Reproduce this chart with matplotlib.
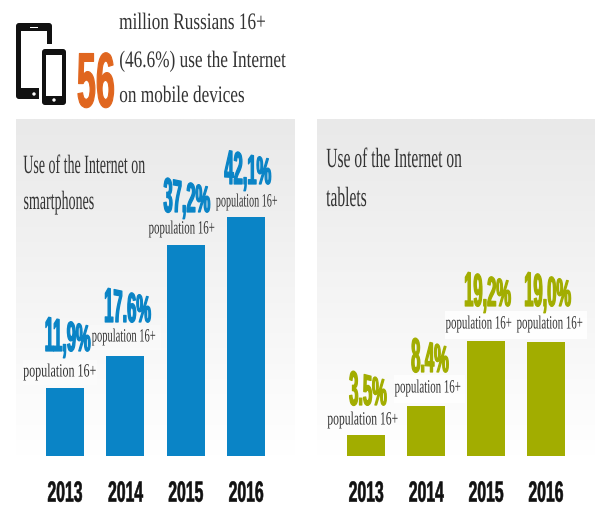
import numpy as np
import matplotlib
matplotlib.use("Agg")
import matplotlib.pyplot as plt
from matplotlib.colors import LinearSegmentedColormap
from matplotlib.patches import FancyBboxPatch, Circle, Rectangle
from matplotlib.patheffects import AbstractPathEffect
from matplotlib.path import Path
from matplotlib.transforms import Affine2D

# --------------------------
# Data
# --------------------------
years = ["2013", "2014", "2015", "2016"]
smartphones = [11.9, 17.6, 37.2, 42.1]
tablets = [3.5, 8.4, 19.2, 19.0]
smartphone_labels = ["11,9%", "17.6%", "37,2%", "42,1%"]
tablet_labels = ["3.5%", "8.4%", "19,2%", "19,0%"]
pop_label = "population 16+"

W, H = 595, 506
BLUE = "#0a84c6"
OLIVE = "#a2ad00"
ORANGE = "#e0661f"
GREY_TEXT = "#333333"
SERIF = "Liberation Serif"
SANS = "Liberation Sans"


class Squeeze(AbstractPathEffect):
    # narrows the glyphs, the installed fonts have no such condensed cut
    def __init__(self, sx, left=False, taper=0.0, stroke=0.0):
        super().__init__()
        self.sx = sx
        self.left = left
        self.taper = taper
        self.stroke = stroke

    def draw_path(self, renderer, gc, tpath, affine, rgbFace=None):
        ext = tpath.get_extents()
        cx = ext.x0 if self.left else (ext.x0 + ext.x1) / 2
        if self.taper:
            # last characters lower than the first ones, on the same baseline
            v = tpath.vertices.copy()
            v[:, 1] *= 1 - self.taper * (v[:, 0] - ext.x0) / ext.width
            tpath = Path(v, tpath.codes)
        squeeze = Affine2D().translate(-cx, 0).scale(self.sx, 1).translate(cx, 0)
        gc0 = renderer.new_gc()
        gc0.copy_properties(gc)
        if self.stroke:
            gc0.set_linewidth(self.stroke)
            gc0.set_foreground(rgbFace)
        renderer.draw_path(gc0, tpath, squeeze + affine, rgbFace)
        gc0.restore()


fig = plt.figure(figsize=(W / 100, H / 100), dpi=100, facecolor="white")


def px_axes(x0, y0, x1, y1):
    return fig.add_axes([x0 / W, 1 - y1 / H, (x1 - x0) / W, (y1 - y0) / H])


def bar_panel(box, values, color, xlim, ymax):
    ax = px_axes(*box)
    grad = np.linspace(0, 1, 256).reshape(-1, 1)
    ax.imshow(grad, cmap=LinearSegmentedColormap.from_list(
        "panel", ["#e9e9e9", "#f4f4f4", "#ffffff"]),
        extent=(0, 1, 0, 1), transform=ax.transAxes, aspect="auto", zorder=0)
    ax.bar(range(len(values)), values, width=0.63, color=color, zorder=2)
    ax.set_xlim(*xlim)
    ax.set_ylim(0, ymax)
    ax.set_yticks([])
    ax.set_xticks(range(len(years)))
    ax.set_xticklabels(years, fontsize=21, fontweight="bold", family=SANS, color="#111111")
    ax.tick_params(axis="x", length=0, pad=17)
    for lab in ax.get_xticklabels():
        lab.set_path_effects([Squeeze(0.54, stroke=0.4)])
    for s in ax.spines.values():
        s.set_visible(False)
    return ax


ax_l = bar_panel((16, 120, 295, 457), smartphones, BLUE, (-0.81, 3.81), 59.4)
ax_r = bar_panel((317, 120, 595, 457), tablets, OLIVE, (-0.82, 3.82), 56.3)

# overlay in picture pixels for the texts and the icon
ov = fig.add_axes([0, 0, 1, 1], facecolor="none")
ov.set_xlim(0, W)
ov.set_ylim(H, 0)
ov.axis("off")


def serif(x, y, s, size, sx, left=False):
    t = ov.text(x, y, s, family=SERIF, fontsize=size, color=GREY_TEXT,
                ha="left" if left else "center", va="baseline" if left else "center",
                zorder=5)
    t.set_path_effects([Squeeze(sx, left=left)])
    return t


def value(x, y, s, color):
    t = ov.text(x, y, s, family=SANS, fontweight="bold", fontsize=36, color=color,
                ha="center", va="baseline", zorder=5)
    t.set_path_effects([Squeeze(0.33, taper=0.28, stroke=0.9)])


def white_box(x, y, w, h, alpha):
    if alpha > 0:
        ov.add_patch(Rectangle((x, y), w, h, facecolor="white", alpha=alpha,
                               edgecolor="none", zorder=4))


# --------------------------
# Header
# --------------------------
ov.add_patch(FancyBboxPatch((16, 24), 36, 76, boxstyle="round,pad=0,rounding_size=3",
                            facecolor="#111111", edgecolor="none", zorder=2))
ov.add_patch(Rectangle((21, 32), 26, 57, facecolor="white", edgecolor="none", zorder=3))
ov.add_patch(Circle((34, 95), 1.7, facecolor="white", edgecolor="none", zorder=3))
ov.add_patch(Rectangle((30, 27.5), 8, 1.5, facecolor="white", edgecolor="none", zorder=3))
ov.add_patch(Rectangle((39, 45), 30, 65, facecolor="white", edgecolor="none", zorder=3))
ov.add_patch(FancyBboxPatch((42, 50), 24, 56, boxstyle="round,pad=0,rounding_size=3",
                            facecolor="#111111", edgecolor="none", zorder=4))
ov.add_patch(Rectangle((46, 56), 16, 41, facecolor="white", edgecolor="none", zorder=5))
ov.add_patch(Circle((54, 101), 1.7, facecolor="white", edgecolor="none", zorder=5))

t56 = ov.text(96, 108, "56", family=SANS, fontweight="bold", fontsize=56, color=ORANGE,
              ha="center", va="baseline", zorder=5)
t56.set_path_effects([Squeeze(0.44, stroke=0.8)])

serif(119, 30, "million Russians 16+", 17, 0.73, left=True)
serif(119, 68, "(46.6%) use the Internet", 17, 0.73, left=True)
serif(119, 103, "on mobile devices", 17, 0.73, left=True)

# --------------------------
# Panel titles
# --------------------------
serif(23, 174, "Use of the Internet on", 19, 0.53, left=True)
serif(23, 210, "smartphones", 19, 0.53, left=True)
serif(326, 168, "Use of the Internet on", 20, 0.56, left=True)
serif(326, 207, "tablets", 20, 0.56, left=True)

# --------------------------
# Bar labels
# --------------------------
l_val_xy = [(67, 352), (127, 323), (187, 213), (248, 185)]
l_pop_xy = [(60, 373), (124, 338), (182, 230), (247, 203)]
l_pop_sx = [0.64, 0.56, 0.58, 0.54]
l_box_alpha = [0.4, 0.3, 0, 0]
r_val_xy = [(368, 406), (430, 373), (487, 307), (547, 307)]
r_pop_xy = [(363, 421), (428, 389), (479, 325), (550, 325)]
r_pop_sx = [0.62, 0.58, 0.58, 0.58]
r_box_alpha = [0, 0.8, 0.9, 0.9]

for lab, (vx, vy), (px, py), sx, a in zip(smartphone_labels, l_val_xy, l_pop_xy, l_pop_sx, l_box_alpha):
    value(vx, vy, lab, BLUE)
    white_box(px - 37, py - 12, 74, 25, a)
    serif(px, py, pop_label, 13.5, sx)
for lab, (vx, vy), (px, py), sx, a in zip(tablet_labels, r_val_xy, r_pop_xy, r_pop_sx, r_box_alpha):
    value(vx, vy, lab, OLIVE)
    white_box(px - 34, py - 13, 71, 28, a)
    serif(px, py, pop_label, 13.5, sx)

fig.savefig("out.png", dpi=100)
